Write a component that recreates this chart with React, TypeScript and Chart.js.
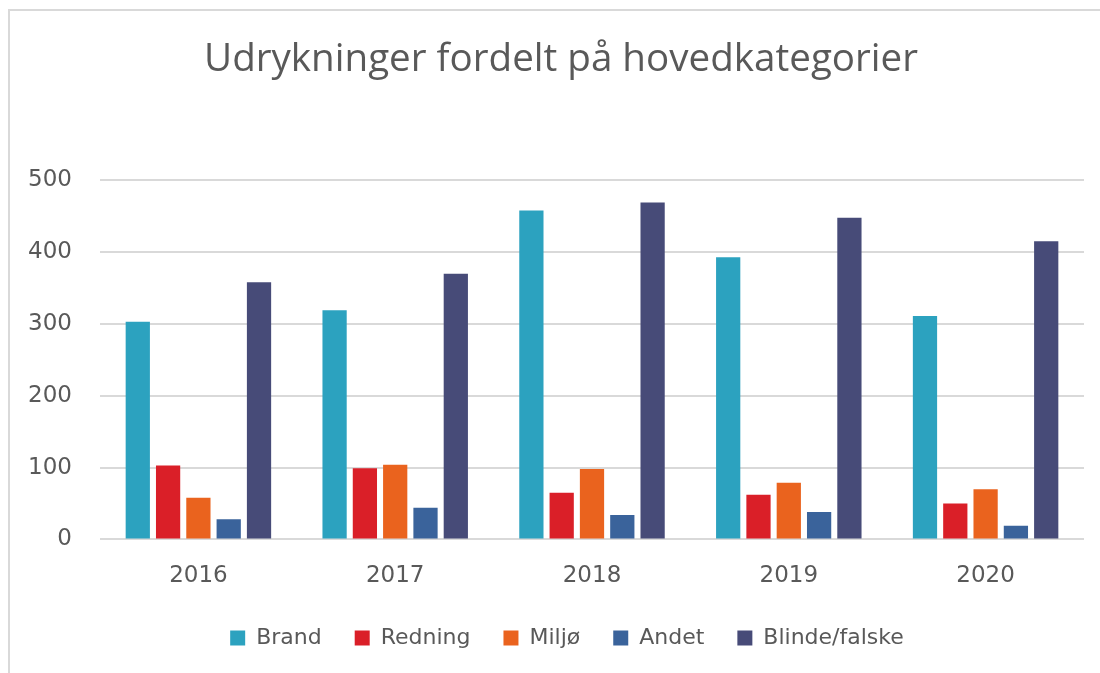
import React, { useEffect, useRef } from "react";
import { Chart, registerables } from "chart.js";

Chart.register(...registerables);

const TITLE = "Udrykninger fordelt på hovedkategorier";
const YEARS = ["2016", "2017", "2018", "2019", "2020"];
const SERIES_NAMES = ["Brand", "Redning", "Miljø", "Andet", "Blinde/falske"];
const BRAND = [303, 319, 458, 393, 311];
const REDNING = [103, 99, 65, 62, 50];
const MILJO = [58, 104, 98, 79, 70];
const ANDET = [28, 44, 34, 38, 19];
const BLINDE = [358, 370, 469, 448, 415];
const COLORS = ["#2CA2BF", "#DA1F28", "#EA631E", "#3A639B", "#474B78"];
const Y_TICKS = [0, 100, 200, 300, 400, 500];

const LEGEND_SHIFT_Y = -19;
const LEGEND_SHIFT_X = 11;
const TITLE_SHIFT_X = 5;

const shiftPlugin = {
  id: "shiftBoxes",
  afterLayout(chart: any) {
    const lg = chart.legend;
    if (lg) {
      lg.top += LEGEND_SHIFT_Y;
      lg.bottom += LEGEND_SHIFT_Y;
      lg.left += LEGEND_SHIFT_X;
      lg.right += LEGEND_SHIFT_X;
    }
    const tb = chart.titleBlock;
    if (tb) {
      tb.left += TITLE_SHIFT_X;
      tb.right += TITLE_SHIFT_X;
    }
  },
};

export default function App() {
  const canvasRef = useRef<HTMLCanvasElement | null>(null);

  useEffect(() => {
    if (!canvasRef.current) return;
    const values = [BRAND, REDNING, MILJO, ANDET, BLINDE];
    const chart = new Chart(canvasRef.current, {
      type: "bar",
      data: {
        labels: YEARS,
        datasets: SERIES_NAMES.map((name, i) => ({
          label: name,
          data: values[i],
          backgroundColor: COLORS[i],
          borderWidth: 0,
          barPercentage: 0.8,
          categoryPercentage: 0.77,
        })),
      },
      plugins: [shiftPlugin],
      options: {
        responsive: false,
        animation: false,
        layout: { padding: { left: 28, right: 16, top: 0, bottom: -5 } },
        plugins: {
          title: {
            display: true,
            text: TITLE,
            color: "#595959",
            font: { family: "'Open Sans'", size: 38.6, weight: "normal" },
            padding: { top: 37, bottom: 97 },
          },
          legend: {
            display: true,
            position: "bottom",
            labels: {
              color: "#595959",
              font: { family: "'DejaVu Sans'", size: 22 },
              boxWidth: 15,
              boxHeight: 15,
              padding: 33,
            },
          },
          tooltip: { enabled: false },
        },
        scales: {
          x: {
            grid: { display: false, drawTicks: false },
            border: { display: false },
            ticks: {
              color: "#595959",
              font: { family: "'DejaVu Sans'", size: 23 },
              padding: 23,
            },
          },
          y: {
            min: 0,
            max: 500,
            afterBuildTicks: (axis: any) => {
              axis.ticks = Y_TICKS.map((v) => ({ value: v }));
            },
            afterFit: (axis: any) => {
              axis.width = 72;
            },
            grid: { color: "#D9D9D9", lineWidth: 2, drawTicks: false },
            border: { display: false },
            ticks: {
              color: "#595959",
              font: { family: "'DejaVu Sans'", size: 23 },
              padding: 28,
            },
          },
        },
      },
    });
    return () => chart.destroy();
  }, []);

  return (
    <div
      style={{
        position: "fixed",
        left: 0,
        top: 0,
        width: 1100,
        height: 673,
        overflow: "hidden",
        background: "#fff",
      }}
    >
      <div
        style={{
          position: "absolute",
          left: 8,
          top: 9,
          width: 1200,
          height: 800,
          borderTop: "2px solid #D9D9D9",
          borderLeft: "2px solid #D9D9D9",
        }}
      />
      <canvas
        ref={canvasRef}
        width={1100}
        height={673}
        style={{ position: "absolute", left: 0, top: 0 }}
      />
    </div>
  );
}
